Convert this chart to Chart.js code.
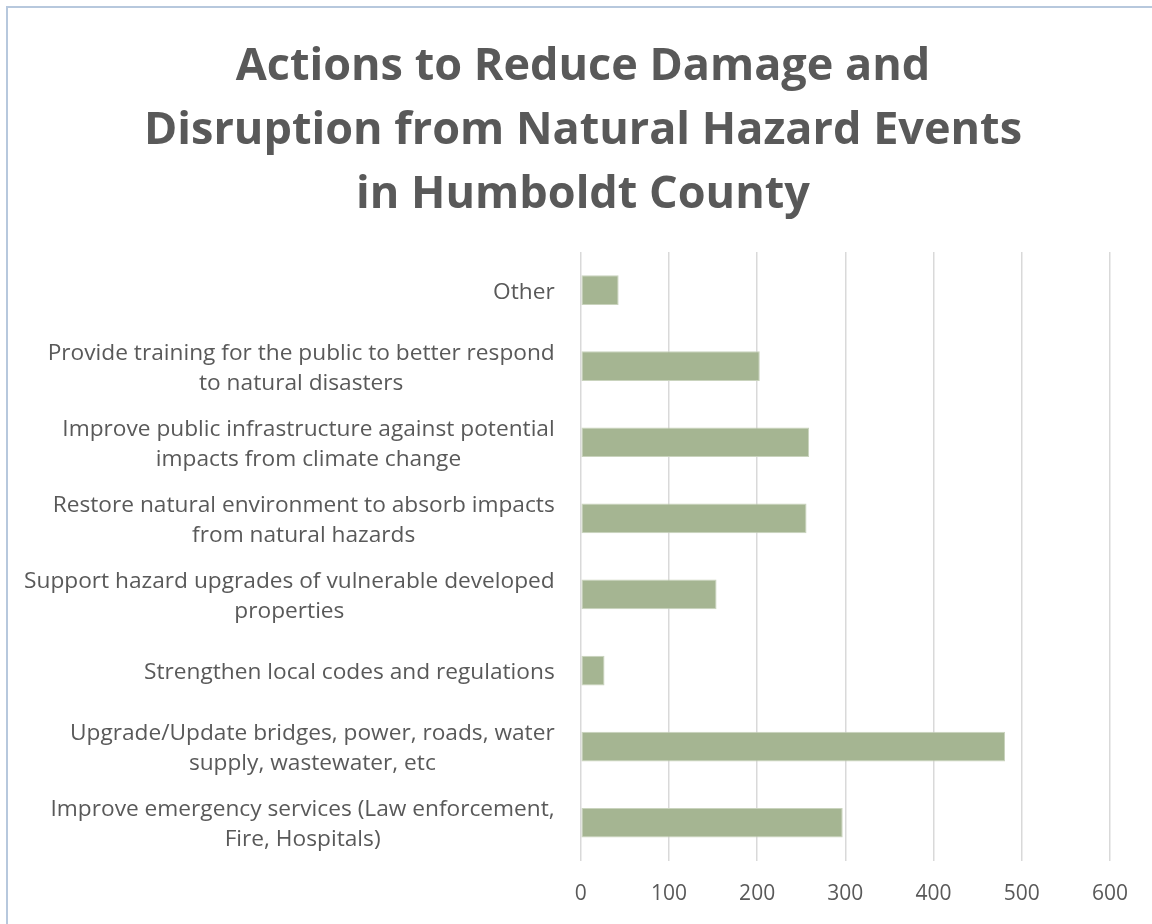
<!DOCTYPE html>
<html>
<head>
<meta charset="utf-8">
<script src="https://cdn.jsdelivr.net/npm/chart.js@4"></script>
<style>
  html, body { margin: 0; padding: 0; background: #fff; overflow: hidden; }
  #frame {
    position: absolute; left: 6px; top: 6px; width: 1160px; height: 930px;
    border-left: 2px solid #b7c8dd; border-top: 2px solid #b7c8dd;
  }
  #wrap { position: absolute; left: 8px; top: 8px; width: 1150px; height: 916px; }
</style>
</head>
<body>
<div id="frame"></div>
<div id="wrap"><canvas id="actions"></canvas></div>
<script>
// survey answers, top to bottom as listed on the axis
const categories = [
  ["Other"],
  ["Provide training for the public to better respond", "to natural disasters"],
  ["Improve public infrastructure against potential", "impacts from climate change"],
  ["Restore natural environment to absorb impacts", "from natural hazards"],
  ["Support hazard upgrades of vulnerable developed", "properties"],
  ["Strengthen local codes and regulations"],
  ["Upgrade/Update bridges, power, roads, water", "supply, wastewater, etc"],
  ["Improve emergency services (Law enforcement,", "Fire, Hospitals)"]
];
const responses = [43, 203, 259, 256, 154, 27, 481, 297];
const xTicks = [0, 100, 200, 300, 400, 500, 600];

const titleLines = [
  "Actions to Reduce Damage and",
  "Disruption from Natural Hazard Events",
  "in Humboldt County"
];

const textGray = "#595959";
const labelFont = "22.7px 'Open Sans'";

// category labels: block right aligned to the axis, lines centred within it
const catLabels = {
  id: "catLabels",
  afterDraw(chart) {
    const ctx = chart.ctx;
    const yScale = chart.scales.y;
    const right = chart.chartArea.left - 26;
    const lh = 30;
    ctx.save();
    ctx.font = labelFont;
    ctx.fillStyle = textGray;
    ctx.textAlign = "center";
    ctx.textBaseline = "middle";
    categories.forEach((lines, i) => {
      const y = yScale.getPixelForTick(i) + 2;
      let w = 0;
      lines.forEach(t => { w = Math.max(w, ctx.measureText(t).width); });
      const cx = right - w / 2;
      lines.forEach((t, k) => {
        ctx.fillText(t, cx, y + (k - (lines.length - 1) / 2) * lh);
      });
    });
    ctx.restore();
  }
};

new Chart(document.getElementById("actions"), {
  type: "bar",
  data: {
    labels: categories,
    datasets: [{
      data: responses,
      backgroundColor: "#a5b592",
      borderColor: "#c9d3bd",
      borderWidth: 1,
      borderSkipped: false,
      barPercentage: 0.39,
      categoryPercentage: 1
    }]
  },
  options: {
    indexAxis: "y",
    responsive: true,
    maintainAspectRatio: false,
    animation: false,
    // equal side padding keeps the title centred on the frame
    layout: { padding: { left: 48, right: 48, top: 0, bottom: -4 } },
    plugins: {
      legend: { display: false },
      tooltip: { enabled: false },
      title: {
        display: true,
        text: titleLines,
        color: textGray,
        font: { family: "'Open Sans'", size: 45, weight: "bold", lineHeight: "64px" },
        padding: { top: 27, bottom: 25 }
      }
    },
    scales: {
      x: {
        min: 0,
        max: 600,
        afterBuildTicks(scale) { scale.ticks = xTicks.map(v => ({ value: v })); },
        grid: { color: "#d9d9d9", lineWidth: 1.5, drawTicks: false },
        border: { display: false },
        ticks: { color: textGray, font: { family: "'Open Sans'", size: 21 }, padding: 21 }
      },
      y: {
        grid: { display: false },
        border: { display: false },
        ticks: { display: false },
        afterFit(scale) { scale.width = 524.7; }
      }
    }
  },
  plugins: [catLabels]
});
</script>
</body>
</html>
